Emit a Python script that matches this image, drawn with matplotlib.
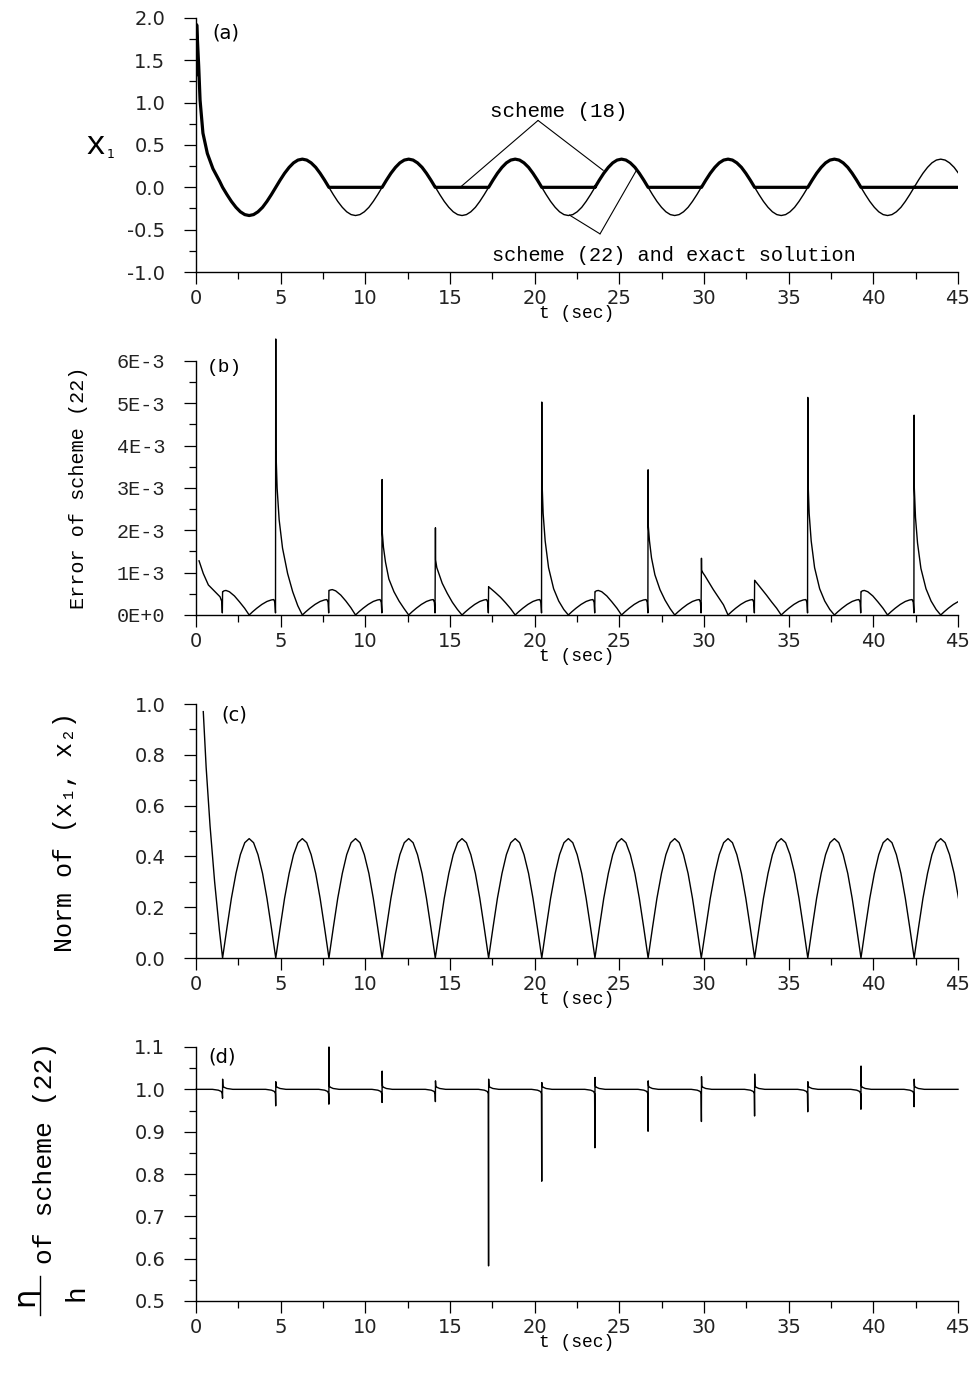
import numpy as np
import matplotlib.pyplot as plt
from matplotlib.ticker import MultipleLocator, FixedLocator
from matplotlib.lines import Line2D

# ---------------- data ----------------
# switching instants: zero crossings of x1, cusps of the norm,
# jumps of the error and of eta/h
switch_t = [1.57, 4.71, 7.85, 10.99, 14.14, 17.28, 20.42,
            23.56, 26.70, 29.85, 32.99, 36.13, 39.27, 42.41]

# (a) x1 : start-up transient, then half waves between switching instants
x1_t0 = [0.0, 0.04, 0.16, 0.24, 0.41, 0.67, 1.0, 1.4]
x1_v0 = [1.33, 1.92, 1.43, 1.03, 0.64, 0.40, 0.22, 0.07]
half_off = [0.0, 0.26, 0.52, 0.79, 1.05, 1.31, 1.57, 1.83, 2.09, 2.36, 2.62, 2.88, 3.14]
x1_half = [0.0, 0.086, 0.166, 0.236, 0.289, 0.322, 0.333, 0.322, 0.289, 0.236, 0.166, 0.086, 0.0]
x1_sign = [-1, 1, -1, 1, -1, 1, -1, 1, -1, 1, -1, 1, -1, 1]
# scheme (18): 1 = follows the exact half wave, 0 = stays at zero
s18_follow = [1, 1, 0, 1, 0, 1, 0, 1, 0, 1, 0, 1, 0, 0]

# (b) error of scheme (22), in units of 1E-3
err_t0 = [0.18, 0.43, 0.73, 1.12, 1.42, 1.53, 1.555]
err_v0 = [1.28, 0.98, 0.71, 0.55, 0.43, 0.31, 0.05]
err_peak = [0.55, 6.52, 0.58, 3.20, 2.06, 0.67, 5.03,
            0.55, 3.43, 1.34, 0.82, 5.14, 0.55, 4.72]
decay_off = [0.01, 0.08, 0.2, 0.4, 0.7, 1.0, 1.3, 1.57]
err_decay = [
    [0.55, 0.57, 0.58, 0.55, 0.45, 0.31, 0.16, 0.0],
    [3.90, 3.00, 2.25, 1.58, 0.98, 0.55, 0.22, 0.0],
    [0.58, 0.59, 0.60, 0.57, 0.47, 0.33, 0.17, 0.0],
    [1.95, 1.60, 1.25, 0.85, 0.55, 0.33, 0.15, 0.0],
    [1.30, 1.12, 0.98, 0.75, 0.51, 0.30, 0.13, 0.0],
    [0.66, 0.64, 0.60, 0.53, 0.42, 0.29, 0.15, 0.0],
    [3.20, 2.40, 1.75, 1.12, 0.62, 0.33, 0.13, 0.0],
    [0.55, 0.57, 0.58, 0.55, 0.45, 0.31, 0.16, 0.0],
    [2.10, 1.75, 1.35, 0.95, 0.60, 0.35, 0.15, 0.0],
    [1.06, 1.00, 0.93, 0.80, 0.60, 0.42, 0.24, 0.0],
    [0.81, 0.78, 0.72, 0.62, 0.47, 0.31, 0.16, 0.0],
    [3.20, 2.40, 1.75, 1.12, 0.62, 0.33, 0.13, 0.0],
    [0.55, 0.57, 0.58, 0.55, 0.45, 0.31, 0.16, 0.0],
    [3.00, 2.30, 1.70, 1.10, 0.62, 0.33, 0.13, 0.0],
]
err_arch_off = [0.2, 0.45, 0.75, 1.05, 1.3, 1.45, 1.52, 1.555]
err_arch_val = [0.075, 0.16, 0.25, 0.32, 0.355, 0.365, 0.30, 0.05]
err_ticklabels = ['0E+0', '1E-3', '2E-3', '3E-3', '4E-3', '5E-3', '6E-3']

# (c) norm of (x1, x2)
norm_t0 = [0.43, 0.6, 0.83, 1.1, 1.38, 1.57]
norm_v0 = [0.97, 0.75, 0.52, 0.30, 0.11, 0.0]
norm_half = [0.0, 0.12, 0.235, 0.333, 0.407, 0.454, 0.47, 0.454, 0.407, 0.333, 0.235, 0.12, 0.0]

# (d) eta/h of scheme (22)
eta_up = [1.024, 1.018, 1.100, 1.043, 1.020, 1.024, 1.016,
          1.028, 1.020, 1.030, 1.036, 1.018, 1.055, 1.024]
eta_down = [0.979, 0.961, 0.965, 0.969, 0.971, 0.583, 0.783,
            0.862, 0.901, 0.924, 0.937, 0.947, 0.953, 0.959]
kink_before_off = [-0.6, -0.25, -0.08, -0.02]
kink_before_val = [1.0, 0.998, 0.995, 0.990]
kink_after_off = [0.02, 0.08, 0.25, 0.6]
kink_after_val = [1.008, 1.005, 1.002, 1.0]

# ---------------- build polylines ----------------
ex_t, ex_v = list(x1_t0), list(x1_v0)
s18_t, s18_v = list(x1_t0), list(x1_v0)
for ts, sg, fol in zip(switch_t, x1_sign, s18_follow):
    wave_t = [ts + o for o in half_off]
    wave_v = [sg * v for v in x1_half]
    ex_t += wave_t
    ex_v += wave_v
    if fol:
        s18_t += wave_t
        s18_v += wave_v
    else:
        s18_t += [wave_t[0], wave_t[-1]]
        s18_v += [0.0, 0.0]

err_t, err_v = list(err_t0), list(err_v0)
for ts, pk, dec in zip(switch_t, err_peak, err_decay):
    err_t.append(ts)
    err_v.append(pk)
    err_t += [ts + o for o in decay_off]
    err_v += dec
    z = ts + decay_off[-1]
    err_t += [z + o for o in err_arch_off]
    err_v += err_arch_val

norm_t, norm_v = list(norm_t0), list(norm_v0)
for ts in switch_t:
    norm_t += [ts + o for o in half_off[1:]]
    norm_v += norm_half[1:]

eta_t, eta_v = [0.0], [1.0]
for ts, up, dn in zip(switch_t, eta_up, eta_down):
    eta_t += [ts + o for o in kink_before_off]
    eta_v += kink_before_val
    eta_t += [ts - 0.003, ts + 0.003]
    eta_v += [dn, up]
    eta_t += [ts + o for o in kink_after_off]
    eta_v += kink_after_val
eta_t.append(45.0)
eta_v.append(1.0)

# ---------------- figure ----------------
W_PX, H_PX = 974, 1378
MONO = 'Liberation Mono'
SANS = 'DejaVu Sans'


def fx(px):
    return px / W_PX


def fy(py):
    return 1 - py / H_PX


fig = plt.figure(figsize=(9.74, 13.78), dpi=100)


def make_axes(top_px, bottom_px):
    ax = fig.add_axes([fx(196), fy(bottom_px), (958 - 196) / W_PX, (bottom_px - top_px) / H_PX])
    ax.spines['top'].set_visible(False)
    ax.spines['right'].set_visible(False)
    for s in ('left', 'bottom'):
        ax.spines[s].set_linewidth(1.0)
    ax.tick_params(which='major', direction='out', length=8.6, width=0.9,
                   labelsize=14, labelcolor='#222222', labelfontfamily=SANS)
    ax.tick_params(which='minor', direction='out', length=4.8, width=0.9)
    ax.tick_params(axis='y', which='major', pad=13.5)
    ax.tick_params(axis='x', which='major', pad=3.5)
    ax.set_xlim(0, 45)
    ax.xaxis.set_major_locator(MultipleLocator(5))
    ax.xaxis.set_minor_locator(MultipleLocator(2.5))
    ax.set_xlabel('t (sec)', fontfamily=MONO, fontsize=13, labelpad=-2)
    return ax


# (a)
ax_a = make_axes(18, 272)
ax_a.plot(ex_t, ex_v, color='black', lw=1.0)
ax_a.plot(s18_t, s18_v, color='black', lw=2.3, solid_joinstyle='round')
ax_a.set_ylim(-1.0, 2.0)
ax_a.yaxis.set_major_locator(MultipleLocator(0.5))
ax_a.yaxis.set_minor_locator(MultipleLocator(0.25))
ax_a.yaxis.set_major_formatter(plt.FuncFormatter(lambda v, p: f'{v:.1f}'))
ax_a.text(0.99, 1.82, '(a)', fontfamily=SANS, fontsize=14, ha='left', va='center')
ax_a.text(21.4, 0.89, 'scheme (18)', fontfamily=MONO, fontsize=15, ha='center', va='center')
for end in [(15.6, 0.0), (24.05, 0.2)]:
    ax_a.annotate('', xy=end, xytext=(20.2, 0.79),
                  arrowprops=dict(arrowstyle='-', lw=0.8, color='black', shrinkA=0, shrinkB=0))
ax_a.text(17.5, -0.80, 'scheme (22) and exact solution', fontfamily=MONO, fontsize=14.6,
          ha='left', va='center')
for end in [(22.05, -0.327), (26.0, 0.197)]:
    ax_a.annotate('', xy=end, xytext=(23.86, -0.55),
                  arrowprops=dict(arrowstyle='-', lw=0.8, color='black', shrinkA=0, shrinkB=0))
fig.text(fx(95.5), fy(146), 'x', fontfamily=MONO, fontsize=24, ha='center', va='center')
fig.text(fx(110.5), fy(155), '1', fontfamily=SANS, fontsize=9, ha='center', va='center')

# (b)
ax_b = make_axes(335.6, 615)
ax_b.plot(err_t, err_v, color='black', lw=1.0)
ax_b.set_ylim(0, 6.6)
ax_b.spines['left'].set_bounds(0, 6)
ax_b.yaxis.set_major_locator(FixedLocator(range(len(err_ticklabels))))
ax_b.yaxis.set_minor_locator(FixedLocator([0.5, 1.5, 2.5, 3.5, 4.5, 5.5]))
ax_b.set_yticklabels(err_ticklabels)
ax_b.tick_params(axis='y', labelfontfamily=MONO, labelsize=14.5)
ax_b.text(0.63, 5.84, '(b)', fontfamily=MONO, fontsize=14, ha='left', va='center')
fig.text(fx(78), fy(488), 'Error of scheme (22)', fontfamily=MONO, fontsize=14.5,
         rotation=90, ha='center', va='center')

# (c)
ax_c = make_axes(704, 958)
ax_c.plot(norm_t, norm_v, color='black', lw=1.0)
ax_c.set_ylim(0, 1.0)
ax_c.yaxis.set_major_locator(MultipleLocator(0.2))
ax_c.yaxis.set_minor_locator(MultipleLocator(0.1))
ax_c.yaxis.set_major_formatter(plt.FuncFormatter(lambda v, p: f'{v:.1f}'))
ax_c.text(1.52, 0.955, '(c)', fontfamily=SANS, fontsize=14, ha='left', va='center')
fig.text(fx(65), fy(832), 'Norm of (x\u2081, x\u2082)', family=[MONO, SANS], fontsize=18,
         rotation=90, ha='center', va='center')

# (d)
ax_d = make_axes(1047, 1301)
ax_d.plot(eta_t, eta_v, color='black', lw=1.0, clip_on=False)
ax_d.set_ylim(0.5, 1.1)
ax_d.yaxis.set_major_locator(MultipleLocator(0.1))
ax_d.yaxis.set_minor_locator(MultipleLocator(0.05))
ax_d.yaxis.set_major_formatter(plt.FuncFormatter(lambda v, p: f'{v:.1f}'))
ax_d.text(0.71, 1.077, '(d)', fontfamily=SANS, fontsize=14, ha='left', va='center')
fig.text(fx(25), fy(1296), '\u03b7', fontfamily=SANS, fontsize=22, rotation=90,
         ha='center', va='center')
fig.add_artist(Line2D([fx(40), fx(40)], [fy(1276), fy(1315)], color='black', lw=1.0,
                      transform=fig.transFigure))
fig.text(fx(76), fy(1293), 'h', fontfamily=MONO, fontsize=20, rotation=90,
         ha='center', va='center')
fig.text(fx(45), fy(1153), 'of scheme (22)', fontfamily=MONO, fontsize=19, rotation=90,
         ha='center', va='center')

fig.savefig('out.png', dpi=100)
